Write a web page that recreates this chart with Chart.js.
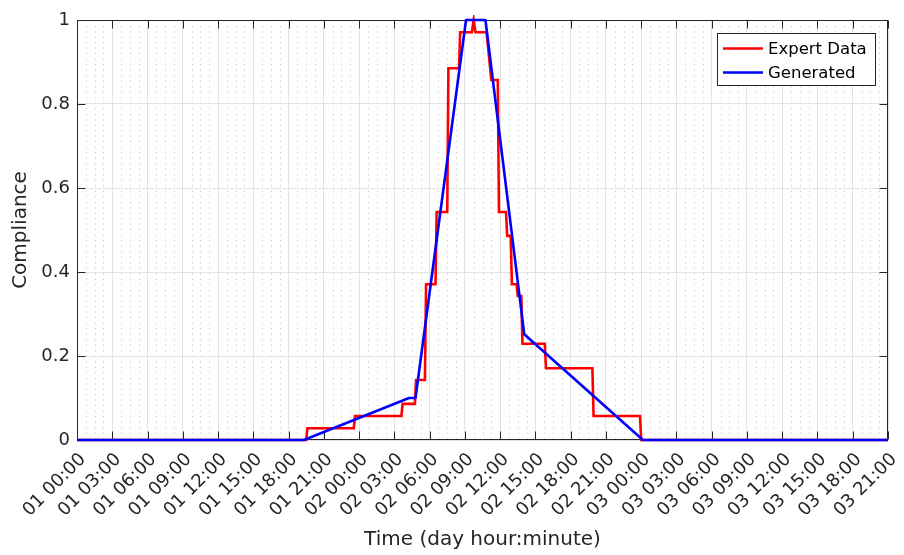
<!DOCTYPE html>
<html>
<head>
<meta charset="utf-8">
<script src="https://cdn.jsdelivr.net/npm/chart.js@4.4.0/dist/chart.umd.min.js"></script>
<style>
  html, body { margin: 0; padding: 0; background: #fff; }
  #wrap { width: 904px; height: 555px; }
</style>
</head>
<body>
<div id="wrap"><canvas id="chart" width="904" height="555"></canvas></div>
<script>
// hours counted from "01 00:00"
const tickLabels = [
    '01 00:00', '01 03:00', '01 06:00', '01 09:00', '01 12:00', '01 15:00', '01 18:00', '01 21:00',
    '02 00:00', '02 03:00', '02 06:00', '02 09:00', '02 12:00', '02 15:00', '02 18:00', '02 21:00',
    '03 00:00', '03 03:00', '03 06:00', '03 09:00', '03 12:00', '03 15:00', '03 18:00', '03 21:00'
];
const yTickValues = [0, 0.2, 0.4, 0.6, 0.8, 1];

const expertHours = [0, 19.5, 19.6, 23.55, 23.65, 27.6, 27.7, 28.75, 28.85, 29.6,
    29.7, 30.5, 30.6, 31.5, 31.6, 32.5, 32.6, 33.6, 33.75, 33.9,
    34.85, 35.25, 35.8, 35.9, 36.5, 36.6, 36.9, 37.0, 37.4, 37.5,
    37.8, 37.9, 39.8, 39.9, 43.85, 43.95, 47.9, 48.0, 69];
const expertValues = [0, 0, 0.028, 0.028, 0.057, 0.057, 0.086, 0.086, 0.143, 0.143,
    0.371, 0.371, 0.543, 0.543, 0.885, 0.885, 0.971, 0.971, 1.0, 0.971,
    0.971, 0.857, 0.857, 0.543, 0.543, 0.486, 0.486, 0.371, 0.371, 0.343,
    0.343, 0.229, 0.229, 0.171, 0.171, 0.057, 0.057, 0, 0];

const generatedHours = [0, 19.3, 28.25, 28.8, 33.1, 34.75, 38.05, 48.15, 69];
const generatedValues = [0, 0, 0.1, 0.1, 1.0, 1.0, 0.252, 0, 0];

const FONT = "'DejaVu Sans', sans-serif";
const AXIS_COLOR = '#262626';

const toPoints = (xs, ys) => xs.map((x, i) => ({ x: x, y: ys[i] }));

// MATLAB-like box, inward ticks, minor dotted grid and legend
const matlabAxes = {
    id: 'matlabAxes',
    beforeDatasetsDraw(chart) {
        const { ctx, chartArea: a, scales: { x, y } } = chart;
        ctx.save();
        // minor vertical grid (4 per major step)
        ctx.strokeStyle = '#d4d4d4';
        ctx.lineWidth = 1;
        ctx.setLineDash([1.5, 4]);
        for (let v = 0; v < x.max; v += 0.75) {
            if (Math.abs(v / 3 - Math.round(v / 3)) < 1e-6) continue;
            const px = Math.round(x.getPixelForValue(v)) + 0.5;
            ctx.beginPath();
            ctx.moveTo(px, a.top);
            ctx.lineTo(px, a.bottom);
            ctx.stroke();
        }
        ctx.setLineDash([]);

        // box
        const l = Math.round(a.left) + 0.5, r = Math.round(a.right) - 0.5;
        const t = Math.round(a.top) + 0.5, b = Math.round(a.bottom) - 0.5;
        ctx.strokeStyle = AXIS_COLOR;
        ctx.beginPath();
        ctx.rect(l, t, r - l, b - t);
        ctx.stroke();

        // inward ticks
        ctx.beginPath();
        x.ticks.forEach(tk => {
            const px = Math.round(x.getPixelForValue(tk.value)) + 0.5;
            ctx.moveTo(px, b); ctx.lineTo(px, b - 8);
            ctx.moveTo(px, t); ctx.lineTo(px, t + 8);
        });
        y.ticks.forEach(tk => {
            const py = Math.round(y.getPixelForValue(tk.value)) + 0.5;
            ctx.moveTo(l, py); ctx.lineTo(l + 8, py);
            ctx.moveTo(r, py); ctx.lineTo(r - 8, py);
        });
        ctx.stroke();
        ctx.restore();
    },
    afterDraw(chart) {
        const ctx = chart.ctx;
        const bx = 717.5, by = 33.5, bw = 158, bh = 52;
        ctx.save();
        ctx.fillStyle = '#ffffff';
        ctx.fillRect(bx, by, bw, bh);
        ctx.strokeStyle = AXIS_COLOR;
        ctx.lineWidth = 1;
        ctx.strokeRect(bx, by, bw, bh);
        ctx.font = '16.5px ' + FONT;
        ctx.textBaseline = 'middle';
        ctx.textAlign = 'left';
        chart.data.datasets.forEach((ds, i) => {
            const ly = 48.5 + i * 24;
            ctx.strokeStyle = ds.borderColor;
            ctx.lineWidth = 2.6;
            ctx.beginPath();
            ctx.moveTo(723, ly);
            ctx.lineTo(763, ly);
            ctx.stroke();
            ctx.fillStyle = '#000000';
            ctx.fillText(ds.label, 768, ly + 1);
        });
        ctx.restore();
    }
};

new Chart(document.getElementById('chart'), {
    type: 'line',
    data: {
        datasets: [
            {
                label: 'Expert Data',
                data: toPoints(expertHours, expertValues),
                borderColor: '#ff0000',
                borderWidth: 2.6,
                pointRadius: 0,
                tension: 0,
                clip: 5,
                order: 1
            },
            {
                label: 'Generated',
                data: toPoints(generatedHours, generatedValues),
                borderColor: '#0000ff',
                borderWidth: 2.6,
                borderJoinStyle: 'round',
                pointRadius: 0,
                tension: 0,
                clip: 5,
                order: 0
            }
        ]
    },
    options: {
        responsive: false,
        devicePixelRatio: 1,
        animation: false,
        layout: { padding: { left: 0, right: 16, top: 20, bottom: 0 } },
        plugins: {
            legend: { display: false },
            tooltip: { enabled: false }
        },
        scales: {
            x: {
                type: 'linear',
                min: 0,
                max: 69,
                afterFit: s => { s.height = 115; s.paddingLeft = 0; s.paddingRight = 0; },
                border: { display: false },
                grid: { color: '#e3e3e3', drawTicks: false },
                ticks: {
                    stepSize: 3,
                    autoSkip: false,
                    minRotation: 45,
                    maxRotation: 45,
                    padding: 9,
                    labelOffset: 6,
                    color: AXIS_COLOR,
                    font: { family: FONT, size: 18 },
                    callback: v => tickLabels[Math.round(v / 3)]
                },
                title: {
                    display: true,
                    text: 'Time (day hour:minute)',
                    color: AXIS_COLOR,
                    font: { family: FONT, size: 20 },
                    padding: { top: 0, bottom: 3 }
                }
            },
            y: {
                min: 0,
                max: 1,
                afterFit: s => { s.width = 77; s.paddingTop = 0; s.paddingBottom = 0; },
                afterBuildTicks: s => { s.ticks = yTickValues.map(v => ({ value: v })); },
                border: { display: false },
                grid: { color: '#e3e3e3', drawTicks: false },
                ticks: {
                    padding: 7,
                    color: AXIS_COLOR,
                    font: { family: FONT, size: 18 },
                    callback: v => String(v)
                },
                title: {
                    display: true,
                    text: 'Compliance',
                    color: AXIS_COLOR,
                    font: { family: FONT, size: 20 },
                    padding: { top: 9, bottom: 0 }
                }
            }
        }
    },
    plugins: [matlabAxes]
});
</script>
</body>
</html>
